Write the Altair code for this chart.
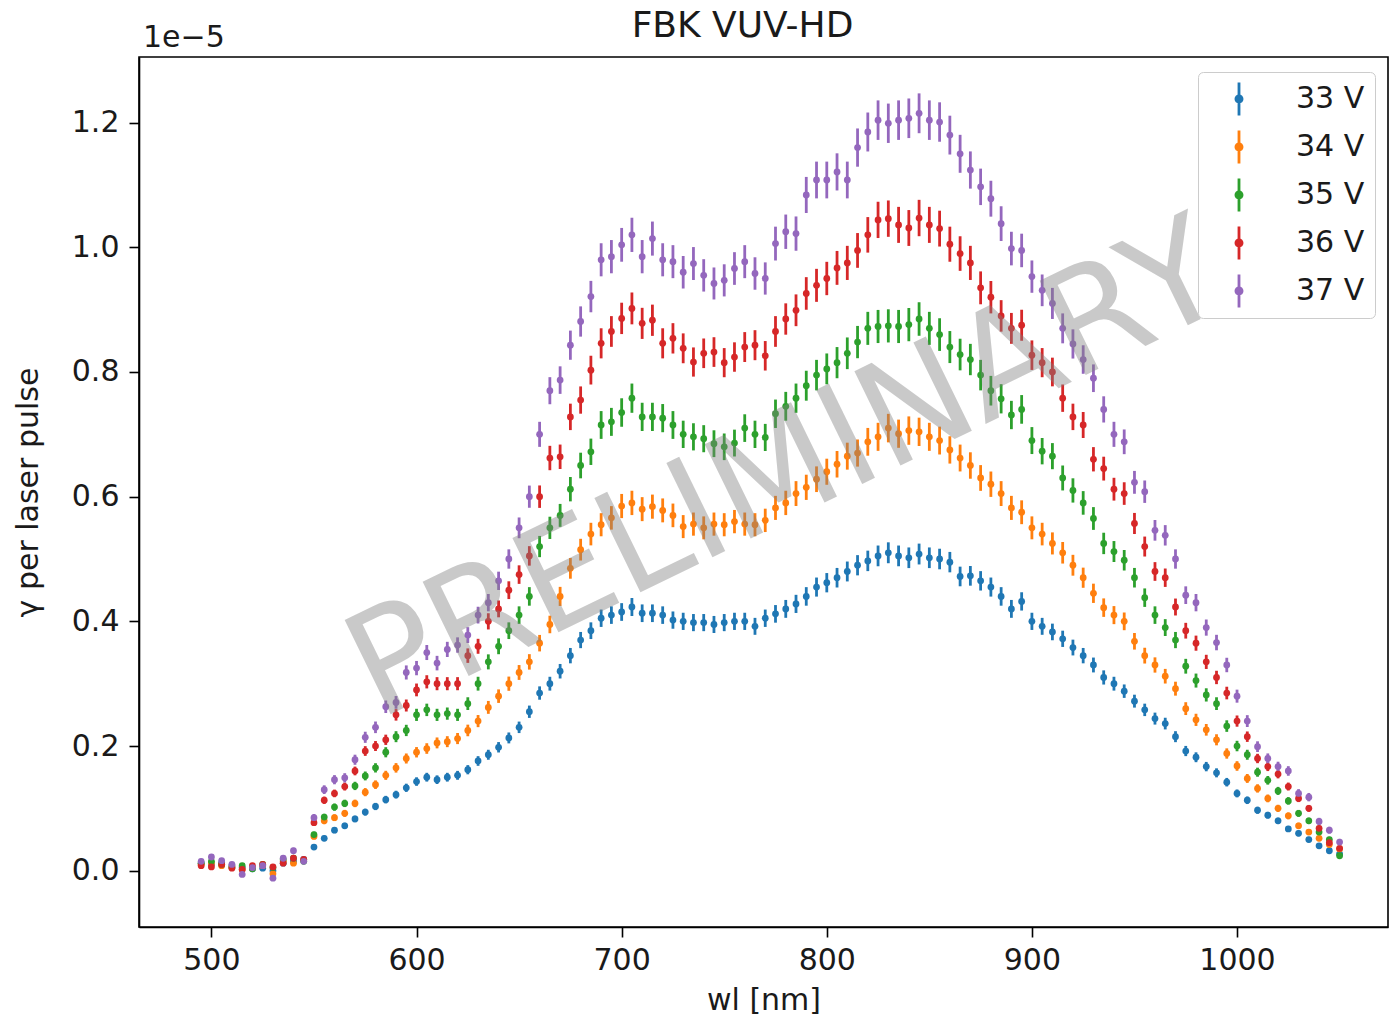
import altair as alt
import pandas as pd

# ---------------- data (values in units of 1e-5) ----------------
wl = list(range(495, 1051, 5))
series = ["33 V", "34 V", "35 V", "36 V", "37 V"]
colors = ["#1f77b4", "#ff7f0e", "#2ca02c", "#d62728", "#9467bd"]
rel_err = [0.027, 0.028, 0.027, 0.025, 0.023]
abs_err_floor = [0.003, 0.003, 0.003, 0.003, 0.004]

y33 = [0.012, 0.010, 0.013, 0.008, 0.005, 0.003, 0.004, 0.000, 0.012, 0.015, 0.018,
       0.038, 0.052, 0.065, 0.072, 0.083, 0.094, 0.103, 0.114, 0.122, 0.133, 0.143,
       0.150, 0.146, 0.150, 0.153, 0.162, 0.176, 0.186, 0.198, 0.213, 0.230, 0.255,
       0.285, 0.300, 0.320, 0.345, 0.370, 0.385, 0.405, 0.410, 0.415, 0.423, 0.413,
       0.413, 0.410, 0.402, 0.400, 0.398, 0.398, 0.395, 0.398, 0.400, 0.400, 0.392,
       0.405, 0.412, 0.420, 0.428, 0.440, 0.455, 0.462, 0.470, 0.480, 0.490, 0.497,
       0.505, 0.510, 0.505, 0.502, 0.508, 0.502, 0.500, 0.495, 0.472, 0.473, 0.465,
       0.455, 0.440, 0.420, 0.432, 0.400, 0.392, 0.383, 0.372, 0.358, 0.345, 0.330,
       0.310, 0.300, 0.288, 0.272, 0.258, 0.244, 0.236, 0.215, 0.192, 0.182, 0.167,
       0.157, 0.142, 0.124, 0.113, 0.097, 0.089, 0.080, 0.067, 0.060, 0.050, 0.040,
       0.032, 0.027]

y34 = [0.010, 0.012, 0.008, 0.006, 0.002, 0.004, 0.008, -0.005, 0.015, 0.012, 0.017,
       0.055, 0.080, 0.085, 0.092, 0.108, 0.126, 0.138, 0.153, 0.165, 0.180, 0.190,
       0.196, 0.205, 0.207, 0.212, 0.225, 0.240, 0.262, 0.280, 0.300, 0.318, 0.335,
       0.365, 0.395, 0.440, 0.485, 0.515, 0.540, 0.555, 0.566, 0.585, 0.590, 0.580,
       0.584, 0.578, 0.570, 0.552, 0.556, 0.550, 0.556, 0.555, 0.560, 0.556, 0.555,
       0.562, 0.582, 0.590, 0.605, 0.615, 0.628, 0.640, 0.652, 0.665, 0.670, 0.688,
       0.696, 0.710, 0.701, 0.706, 0.704, 0.696, 0.690, 0.675, 0.662, 0.650, 0.630,
       0.620, 0.605, 0.582, 0.575, 0.550, 0.540, 0.525, 0.510, 0.490, 0.470, 0.445,
       0.422, 0.410, 0.400, 0.368, 0.345, 0.330, 0.312, 0.292, 0.260, 0.242, 0.226,
       0.210, 0.188, 0.168, 0.148, 0.132, 0.116, 0.100, 0.088, 0.072, 0.062, 0.052,
       0.042, 0.035]

y35 = [0.012, 0.015, 0.010, 0.005, 0.008, 0.003, 0.010, 0.005, 0.018, 0.020, 0.015,
       0.058, 0.086, 0.102, 0.108, 0.136, 0.152, 0.165, 0.190, 0.215, 0.225, 0.250,
       0.258, 0.250, 0.252, 0.250, 0.268, 0.300, 0.335, 0.360, 0.385, 0.410, 0.440,
       0.520, 0.550, 0.570, 0.612, 0.650, 0.672, 0.715, 0.720, 0.735, 0.758, 0.728,
       0.728, 0.726, 0.715, 0.700, 0.696, 0.693, 0.685, 0.680, 0.686, 0.710, 0.700,
       0.695, 0.733, 0.745, 0.758, 0.778, 0.795, 0.805, 0.815, 0.830, 0.848, 0.870,
       0.873, 0.874, 0.873, 0.876, 0.885, 0.870, 0.860, 0.840, 0.828, 0.820, 0.795,
       0.770, 0.757, 0.731, 0.740, 0.690, 0.673, 0.665, 0.630, 0.610, 0.590, 0.565,
       0.525, 0.512, 0.498, 0.470, 0.438, 0.410, 0.390, 0.370, 0.328, 0.305, 0.282,
       0.268, 0.232, 0.200, 0.186, 0.158, 0.145, 0.128, 0.112, 0.092, 0.080, 0.062,
       0.050, 0.024]

y36 = [0.008, 0.006, 0.010, 0.004, 0.002, 0.008, 0.010, 0.006, 0.012, 0.020, 0.018,
       0.077, 0.113, 0.124, 0.135, 0.160, 0.192, 0.200, 0.210, 0.250, 0.265, 0.290,
       0.303, 0.300, 0.300, 0.300, 0.345, 0.360, 0.400, 0.420, 0.450, 0.475, 0.505,
       0.600, 0.662, 0.664, 0.728, 0.755, 0.803, 0.846, 0.865, 0.886, 0.902, 0.878,
       0.883, 0.846, 0.854, 0.838, 0.816, 0.830, 0.832, 0.815, 0.824, 0.840, 0.843,
       0.826, 0.865, 0.885, 0.899, 0.926, 0.939, 0.950, 0.967, 0.975, 0.995, 1.020,
       1.044, 1.046, 1.036, 1.031, 1.047, 1.036, 1.030, 1.005, 0.990, 0.975, 0.935,
       0.920, 0.890, 0.870, 0.875, 0.827, 0.815, 0.800, 0.758, 0.728, 0.715, 0.660,
       0.645, 0.612, 0.605, 0.557, 0.520, 0.480, 0.470, 0.423, 0.385, 0.365, 0.335,
       0.310, 0.285, 0.240, 0.215, 0.180, 0.167, 0.155, 0.135, 0.116, 0.100, 0.068,
       0.045, 0.036]

y37 = [0.015, 0.022, 0.016, 0.010, -0.006, 0.005, 0.008, -0.012, 0.020, 0.032, 0.015,
       0.085, 0.130, 0.146, 0.149, 0.178, 0.214, 0.230, 0.263, 0.270, 0.318, 0.325,
       0.350, 0.333, 0.355, 0.362, 0.378, 0.410, 0.430, 0.465, 0.500, 0.550, 0.600,
       0.700, 0.770, 0.787, 0.843, 0.881, 0.921, 0.980, 0.985, 1.004, 1.020, 0.985,
       1.014, 0.980, 0.977, 0.960, 0.974, 0.955, 0.942, 0.947, 0.966, 0.977, 0.958,
       0.950, 1.006, 1.025, 1.022, 1.084, 1.108, 1.108, 1.121, 1.108, 1.160, 1.185,
       1.204, 1.199, 1.204, 1.207, 1.215, 1.204, 1.201, 1.180, 1.150, 1.124, 1.097,
       1.078, 1.038, 0.998, 0.995, 0.953, 0.931, 0.910, 0.870, 0.845, 0.820, 0.790,
       0.740, 0.700, 0.688, 0.623, 0.608, 0.546, 0.538, 0.500, 0.442, 0.430, 0.390,
       0.366, 0.330, 0.280, 0.240, 0.199, 0.180, 0.167, 0.160, 0.124, 0.118, 0.079,
       0.065, 0.046]

x_ticks = [500, 600, 700, 800, 900, 1000]
y_ticks = [0.0, 0.2, 0.4, 0.6, 0.8, 1.0, 1.2]

rows = []
for name, vals, re, fl in zip(series, [y33, y34, y35, y36, y37], rel_err, abs_err_floor):
    for w, v in zip(wl, vals):
        e = abs(v) * re + fl
        rows.append({"wl": w, "y": v, "lo": v - e, "hi": v + e, "series": name})
df = pd.DataFrame(rows)

FONT = "DejaVu Sans"
TXT = "#1a1a1a"

xscale = alt.Scale(domain=[464.7, 1073.6], nice=False, zero=False)
yscale = alt.Scale(domain=[-0.0903, 1.3053], nice=False, zero=False)
cscale = alt.Scale(domain=series, range=colors)

xaxis = alt.Axis(values=x_ticks, format="d", title="wl [nm]", labelPadding=8, titlePadding=10)
yaxis = alt.Axis(values=y_ticks, format=".1f", title="γ per laser pulse",
                 labelPadding=10, titlePadding=28)

legend_symbol = ("M-0.085,-1L0.085,-1L0.085,1L-0.085,1Z "
                 "M-0.27,0A0.27,0.27 0 1,1 0.27,0A0.27,0.27 0 1,1 -0.27,0Z")

legend = alt.Legend(
    title=None,
    orient="none",
    legendX=1059,
    legendY=15,
    symbolType=legend_symbol,
    symbolSize=1100,
    symbolStrokeWidth=0,
    symbolOpacity=1,
    symbolOffset=14,
    labelOffset=40,
    labelFontSize=30,
    labelFont=FONT,
    labelColor=TXT,
    rowPadding=14,
    padding=10,
    strokeColor="#cccccc",
    fillColor="white",
    cornerRadius=5,
)

base = alt.Chart(df)

bars = base.mark_rule(strokeWidth=2.8, opacity=1).encode(
    x=alt.X("wl:Q", scale=xscale, axis=xaxis),
    y=alt.Y("lo:Q", scale=yscale, axis=yaxis),
    y2="hi:Q",
    color=alt.Color("series:N", scale=cscale, legend=legend),
)

points = base.mark_point(filled=True, size=46, opacity=1, shape="circle").encode(
    x=alt.X("wl:Q", scale=xscale),
    y=alt.Y("y:Q", scale=yscale),
    color=alt.Color("series:N", scale=cscale, legend=legend),
)

wm = alt.Chart(pd.DataFrame({"t": ["PRELIMINARY"]})).mark_text(
    font=FONT, fontSize=144, angle=334, color="#808080", opacity=0.42,
    align="center", baseline="middle",
).encode(text="t:N", x=alt.value(648), y=alt.value(416))

offset_txt = alt.Chart(pd.DataFrame({"t": ["1e\u22125"]})).mark_text(
    font=FONT, fontSize=30, color=TXT, align="left", baseline="middle",
).encode(text="t:N", x=alt.value(4), y=alt.value(-19))

chart = alt.layer(bars, points, wm, offset_txt).properties(
    width=1249,
    height=870,
    autosize="none",
    background="white",
    padding={"left": 139, "top": 57, "right": 3, "bottom": 98},
    title=alt.TitleParams(
        "FBK VUV-HD", font=FONT, fontSize=36, fontWeight="normal",
        color=TXT, anchor="middle", dx=-21, offset=-22,
    ),
).configure_view(
    stroke="black", strokeWidth=1.6
).configure_axis(
    grid=False,
    domainColor="black",
    domainWidth=1.6,
    tickColor="black",
    tickWidth=1.6,
    tickSize=10,
    labelFont=FONT,
    labelFontSize=30,
    labelColor=TXT,
    titleFont=FONT,
    titleFontSize=30,
    titleFontWeight="normal",
    titleColor=TXT,
)

chart.save("out.html", embed_options={"renderer": "svg", "actions": False})
